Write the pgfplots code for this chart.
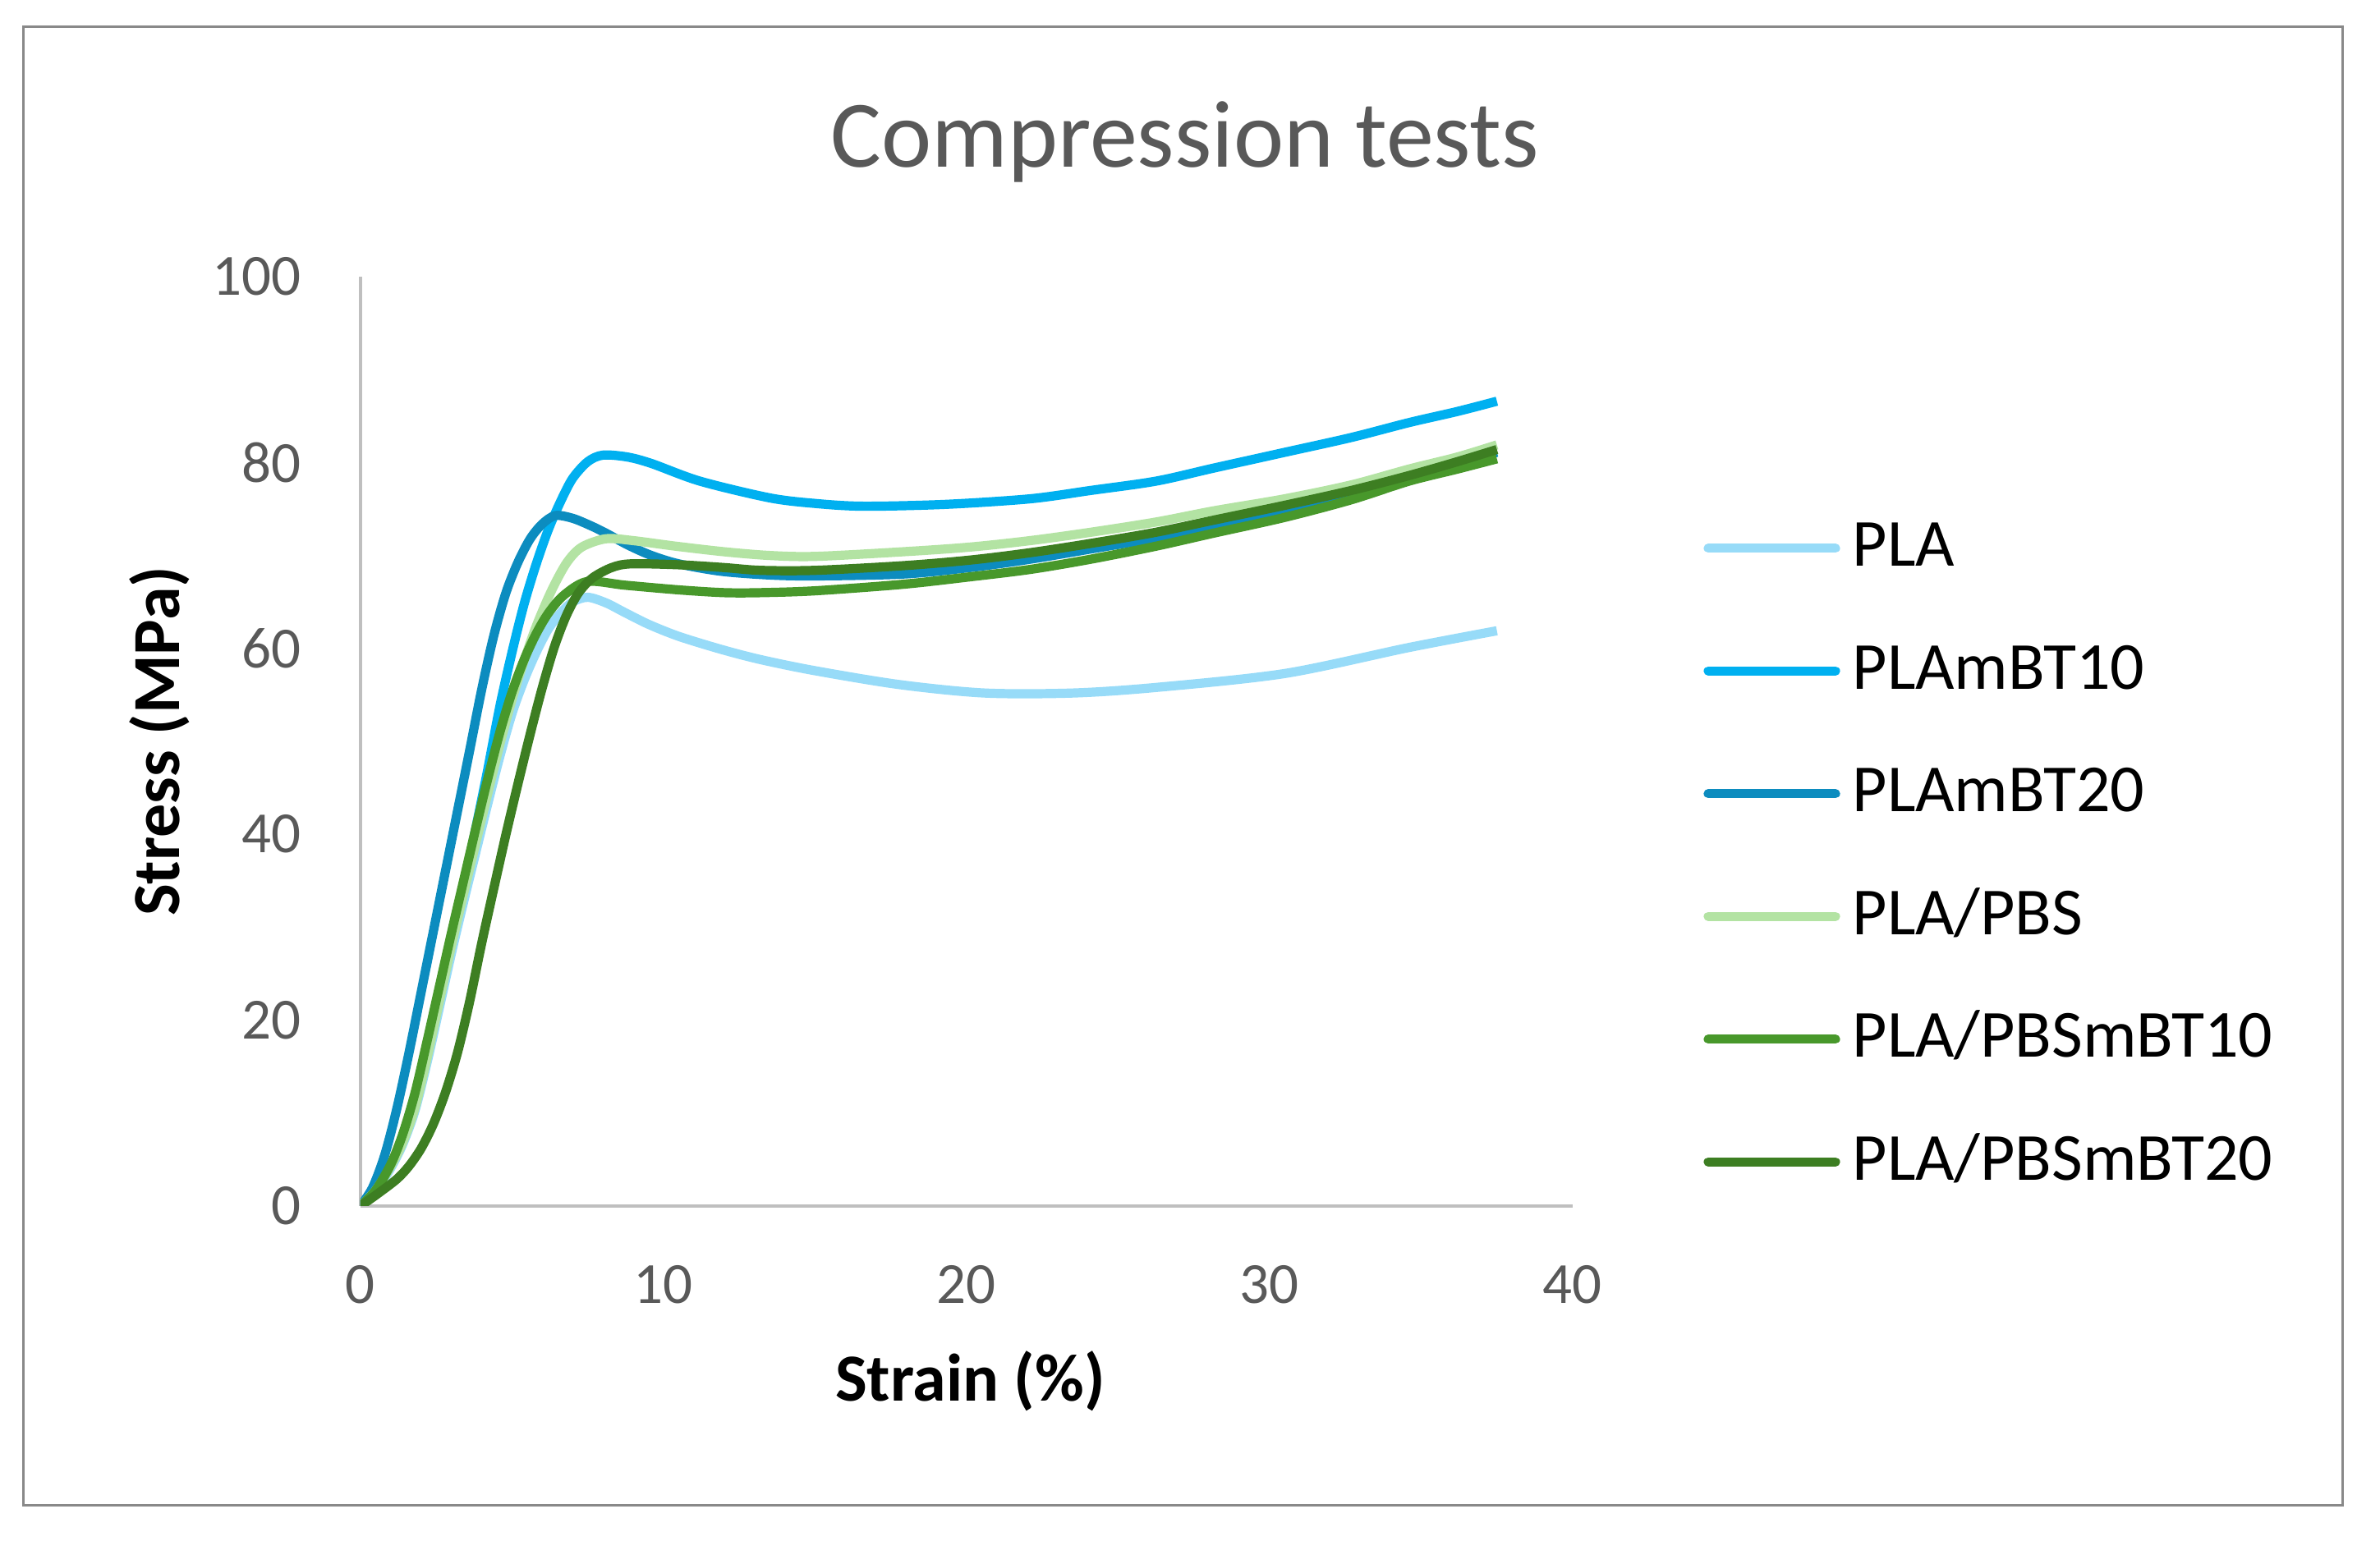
\documentclass[border=0pt]{standalone}
\usepackage{fontspec}
\setmainfont{Carlito}
\usepackage{pgfplots}
\pgfplotsset{compat=1.18}

\definecolor{cPLA}{HTML}{97DBF8}
\definecolor{cPLAmBT10}{HTML}{00B0F0}
\definecolor{cPLAmBT20}{HTML}{0C8CBF}
\definecolor{cPBS}{HTML}{B3E3A3}
\definecolor{cPBSmBT10}{HTML}{48982B}
\definecolor{cPBSmBT20}{HTML}{3D7E22}
\definecolor{txtgray}{HTML}{595959}
\definecolor{axgray}{HTML}{BFBFBF}
\definecolor{framegray}{HTML}{898989}

\begin{document}
\begin{tikzpicture}
\path[use as bounding box] (0pt,0pt) rectangle (289.8pt,187.7pt);
\draw[framegray, line width=0.33pt] (2.85pt,4.35pt) rectangle (285.25pt,184.45pt);
\begin{axis}[
    at={(43.9pt,40.8pt)}, anchor=south west,
    scale only axis, width=147.6pt, height=113.2pt,
    xmin=0, xmax=40, ymin=0, ymax=100,
    xtick={0,10,...,40}, ytick={0,20,...,100},
    axis x line=bottom, axis y line=left,
    axis line style={-, draw=axgray, line width=0.45pt},
    major tick length=0pt,
    /pgf/number format/assume math mode=true,
    ticklabel style={font=\fontsize{7.1}{8}\selectfont, text=txtgray, inner sep=0pt},
    xticklabel style={yshift=-7.0pt},
    yticklabel style={xshift=-7.1pt},
    xlabel={\textbf{Strain (\%)}},
    ylabel={\textbf{Stress (MPa)}},
    label style={font=\fontsize{8.2}{9}\selectfont},
    xlabel style={at={(axis description cs:0.503,-0.2102)}, anchor=base},
    ylabel style={at={(axis description cs:-0.1497,0.5)}, anchor=base},
    title={Compression tests},
    title style={at={(axis description cs:0.6802,1.0645)}, anchor=base,
      font=\fontsize{11.6}{13}\selectfont, text=txtgray},
    legend image code/.code={\draw[#1, line cap=round] (0pt,0pt) -- (15.5pt,0pt);},
    legend style={at={(axis description cs:1.1067,0.7361)}, anchor=north west,
      draw=none, fill=none, inner xsep=0pt, inner ysep=0pt,
      font=\fontsize{8.2}{9}\selectfont, row sep=8.95pt,
      cells={anchor=west},
      nodes={inner sep=0pt, text height=5.2pt, text depth=0.8pt},
      /tikz/every odd column/.append style={column sep=1.5pt}},
    every axis plot/.append style={line width=1.12pt, smooth, no markers},
  ]
% PLA
\addplot[cPLA] coordinates {
 (0,0) (0.5,1.6) (1.0,4.1) (1.4,6.7) (1.8,10.3) (2.2,15.5) (2.6,21.3) (3.0,27.2)
 (3.4,32.7) (3.8,38) (4.2,43.3) (4.6,48.4) (5.0,53) (5.4,56.6) (5.8,59.6)
 (6.2,62.1) (6.6,63.8) (7.0,65.0) (7.5,65.5) (8.1,64.9) (8.7,63.9) (9.5,62.6)
 (10.5,61.3) (11.9,59.9) (13.2,58.8) (15,57.6) (17.8,56.1) (20.6,55.2) (23.5,55.2)
 (26.25,55.8) (30.5,57.3) (34.6,60.1) (37.5,61.9)};
% PLAmBT10
\addplot[cPLAmBT10] coordinates {
 (0,0) (0.5,1.7) (1.0,4.4) (1.4,7.2) (1.8,11) (2.2,16.3) (2.6,22.2) (3.0,28.3)
 (3.4,34.4) (3.8,40.6) (4.2,47) (4.6,53.8) (5.0,59.6) (5.4,64.8) (5.8,69.1)
 (6.2,72.8) (6.6,75.8) (7.0,78.3) (7.5,80.1) (8.0,80.8) (8.8,80.6) (9.6,79.9)
 (11.2,78.0) (13.5,76.2) (15,75.6) (16.6,75.3) (19.3,75.5) (22.1,76.1) (24.1,77.0)
 (26.25,78.0) (28.15,79.4) (30.5,81.1) (32.7,82.7) (34.6,84.3) (36.2,85.5) (37.5,86.6)};
% PLAmBT20
\addplot[cPLAmBT20] coordinates {
 (0,0) (0.4,2) (0.8,5.5) (1.2,10.5) (1.6,16.5) (2.0,23) (2.4,29.5) (2.8,36)
 (3.2,42.5) (3.6,49) (4.0,55.6) (4.4,61.4) (4.8,66) (5.2,69.3) (5.6,71.8)
 (6.0,73.4) (6.43,74.3) (7.0,74.0) (7.6,73.2) (8.1,72.4) (8.84,71.1) (9.6,70.0)
 (10.5,69.1) (11.9,68.3) (13.5,67.9) (15,67.8) (17.9,68.0) (20.1,68.7) (22.1,69.6)
 (24.1,70.7) (26.25,71.9) (28.15,73.3) (30.5,75.0) (32.7,76.8) (34.6,78.5) (36.2,79.9)
 (37.5,81.1)};
% PLA/PBS
\addplot[cPBS] coordinates {
 (0,0) (0.5,1.7) (1.0,4.3) (1.4,6.9) (1.8,10.6) (2.2,16) (2.6,22) (3.0,28)
 (3.4,33.6) (3.8,39) (4.2,44.4) (4.6,49.7) (5.0,54.5) (5.4,58.7) (5.8,62.4)
 (6.3,66.2) (6.8,69.2) (7.3,70.9) (8.1,71.8) (9,71.6) (10.4,71.0) (12,70.4)
 (13.5,70.0) (15,69.9) (17.9,70.4) (20.1,70.9) (22.1,71.6) (24.1,72.5) (26.25,73.6)
 (28.15,74.8) (30.5,76.1) (32.7,77.6) (34.6,79.3) (36.2,80.6) (37.5,81.9)};
% PLA/PBSmBT10
\addplot[cPBSmBT10] coordinates {
 (0,0) (0.5,1.7) (1.0,4.5) (1.4,7.8) (1.8,12.2) (2.2,17.8) (2.6,23.6) (3.0,29.4)
 (3.4,35) (3.8,40.6) (4.2,46) (4.6,51) (5.0,55.3) (5.4,58.8) (5.8,61.6)
 (6.2,63.8) (6.7,65.7) (7.48,67.2) (8.74,66.8) (10.5,66.3) (12,66.0) (13.2,66.0)
 (15,66.2) (17.9,66.9) (20.1,67.7) (22.1,68.5) (24.1,69.6) (26.25,71.0) (28.15,72.4)
 (30.5,74.1) (32.7,76.0) (34.6,78.0) (36.2,79.3) (37.5,80.4)};
% PLA/PBSmBT20
\addplot[cPBSmBT20] coordinates {
 (0,0) (0.6,1.4) (1.2,2.9) (1.6,4.3) (2.0,6.2) (2.4,8.8) (2.8,12.2) (3.2,16.5)
 (3.6,22) (4.0,28.3) (4.4,34.2) (4.8,40) (5.2,45.5) (5.6,50.8) (6.0,55.8)
 (6.4,60.2) (6.8,63.6) (7.2,66.0) (7.66,67.6) (8.29,68.7) (8.92,69.1) (10.5,69.0)
 (12,68.7) (13.2,68.4) (15,68.4) (17.9,68.9) (20.1,69.5) (22.1,70.3) (24.1,71.3)
 (26.25,72.5) (28.15,73.8) (30.5,75.4) (32.7,77.0) (34.6,78.6) (36.2,80.1) (37.5,81.4)};
\legend{PLA,PLAmBT10,PLAmBT20,PLA/PBS,PLA/PBSmBT10,PLA/PBSmBT20}
\end{axis}
\end{tikzpicture}
\end{document}
